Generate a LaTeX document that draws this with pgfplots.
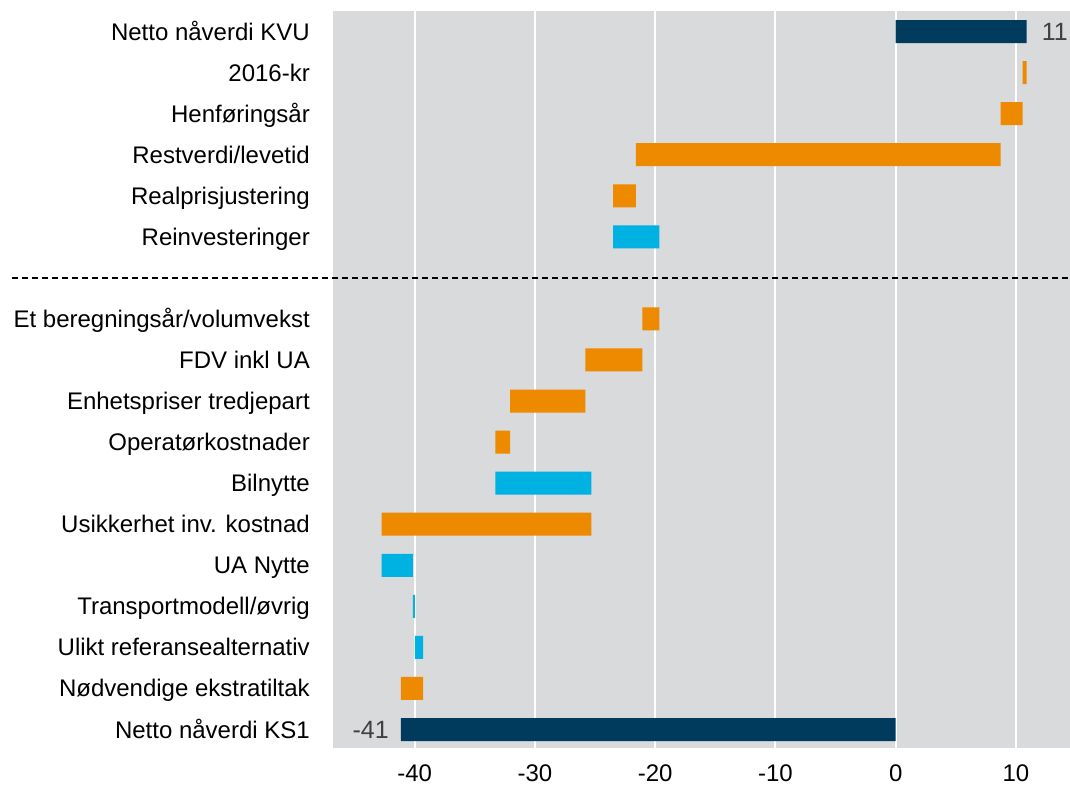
\documentclass[border=0pt]{standalone}
\usepackage{fontspec}
\setmainfont{Liberation Sans}
\usepackage{pgfplots}
\usepackage{pgfplotstable}
\pgfplotsset{compat=1.18}
\definecolor{navy}{RGB}{0,58,92}
\definecolor{orng}{RGB}{238,138,0}
\definecolor{cyn}{RGB}{0,178,226}
\definecolor{bggray}{RGB}{217,218,220}
\definecolor{lblgray}{RGB}{64,64,64}
\pgfplotstableread{
y base orange cyan navy
17 0 0 0 10.9
16 10.55 0.35 0 0
15 8.73 1.82 0 0
14 -21.6 30.33 0 0
13 -23.5 1.9 0 0
12 -23.5 0 3.85 0
10 -21.06 1.41 0 0
9 -25.8 4.74 0 0
8 -32.06 6.26 0 0
7 -33.3 1.24 0 0
6 -33.3 0 8.0 0
5 -42.75 17.45 0 0
4 -42.75 0 2.6 0
3 -40.15 0 0.15 0
2 -40.0 0 0.7 0
1 -41.15 1.85 0 0
0 -41.15 0 0 41.15
}\datatable
\begin{document}
\begin{tikzpicture}
\begin{axis}[
  scale only axis, width=737pt, height=737pt,
  xmin=-46.8, xmax=14.5, ymin=-0.45, ymax=17.5,
  xbar stacked, stack negative=on previous, bar width=23pt,
  axis background/.style={fill=bggray},
  axis line style={draw=none},
  major tick length=0pt,
  xtick={-40,-30,-20,-10,0,10},
  xticklabels={-40,-30,-20,-10,0,10},
  xmajorgrids, grid style={white, line width=2pt},
  ytick={0,1,2,3,4,5,6,7,8,9,10,12,13,14,15,16,17},
  yticklabels={Netto nåverdi KS1, Nødvendige ekstratiltak, Ulikt referansealternativ, Transportmodell/øvrig, UA Nytte, Usikkerhet inv. kostnad, Bilnytte, Operatørkostnader, Enhetspriser tredjepart, FDV inkl UA, Et beregningsår/volumvekst, Reinvesteringer, Realprisjustering, Restverdi/levetid, Henføringsår, 2016-kr, Netto nåverdi KVU},
  tick label style={font=\fontsize{24}{28}\selectfont, text=black},
  yticklabel style={inner sep=0pt, xshift=-23pt, text height=17pt, text depth=0pt, anchor=east},
  xticklabel style={inner sep=0pt, yshift=-16pt, text height=17pt, text depth=0pt, anchor=north},
  clip=false,
]
\addplot[draw=none, fill=none] table[x=base, y=y] {\datatable};
\addplot[draw=none, fill=orng] table[x=orange, y=y] {\datatable};
\addplot[draw=none, fill=cyn] table[x=cyan, y=y] {\datatable};
\addplot[draw=none, fill=navy] table[x=navy, y=y] {\datatable};
\draw[black, dash pattern=on 6pt off 4pt, line width=1.5pt] ([xshift=-321pt]axis cs:-46.8,11) -- (axis cs:14.5,11);
\node[anchor=west, inner sep=0pt, xshift=15pt, text height=17pt, text depth=0pt, text=lblgray, font=\fontsize{25}{28}\selectfont] at (axis cs:10.9,17) {11};
\node[anchor=east, inner sep=0pt, xshift=-12pt, text height=17pt, text depth=0pt, text=lblgray, font=\fontsize{25}{28}\selectfont] at (axis cs:-41.15,0) {-41};
\end{axis}
\pgfresetboundingbox
\path[use as bounding box] (current axis.south west) ++(-333pt,-39pt) rectangle ++(1070pt,787pt);
\end{tikzpicture}
\end{document}
